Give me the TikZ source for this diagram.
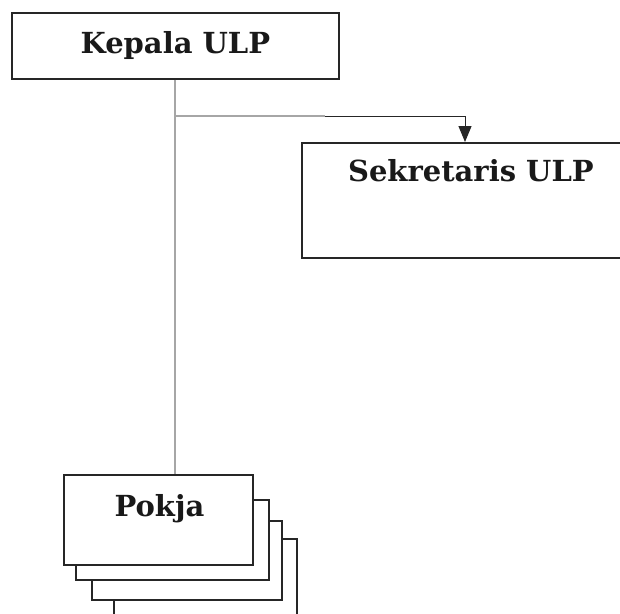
\documentclass[tikz,border=0pt]{standalone}
\usepackage{fontspec}
\setmainfont{DejaVu Serif}
\usetikzlibrary{positioning}
\usetikzlibrary{arrows.meta}

\begin{document}
\begin{tikzpicture}[
        x=1pt, y=-1pt,
        box/.style={rectangle, draw=black!85, line width=1.8pt, fill=white, anchor=north west, inner sep=0pt},
        title/.style={font=\bfseries\fontsize{29}{32}\selectfont, text=black!90},
        link/.style={draw=black!35, line width=2.2pt},
        tip/.style={-{Triangle[length=16pt,width=13pt]}, draw=black!85, line width=1pt}
    ]
        \useasboundingbox (0,0) rectangle (620,613);

        % Boxes
        \node [box, minimum width=327pt, minimum height=66pt] (Kepala) at (11,12) {};
        \node [box, minimum width=330pt, minimum height=115pt] (Sekretaris) at (301,142) {};
        \node [box, minimum width=183pt, minimum height=100pt] (Pokja4) at (113,538) {};
        \node [box, minimum width=190pt, minimum height=79pt] (Pokja3) at (91,520) {};
        \node [box, minimum width=193pt, minimum height=80pt] (Pokja2) at (75,499) {};
        \node [box, minimum width=189pt, minimum height=90pt] (Pokja) at (63,474) {};

        % Titles
        \node [title] (KepalaText) at (Kepala.center) {Kepala ULP};
        \node [title, below=14pt of Sekretaris.north, xshift=4pt] (SekretarisText) {Sekretaris ULP};
        \node [title, below=17pt of Pokja.north, xshift=1pt] (PokjaText) {Pokja};

        % Connectors
        \coordinate (Branch) at (175,116);
        \coordinate (Bend) at (325,116);
        \coordinate (Turn) at (465,116);
        \path[link] (Kepala.south -| Branch) -- (Pokja.north -| Branch);
        \path[link] (Branch) -- (Bend);
        \draw[tip] (Bend) -- (Turn) -- (Sekretaris.north -| Turn);

\end{tikzpicture}
\end{document}
